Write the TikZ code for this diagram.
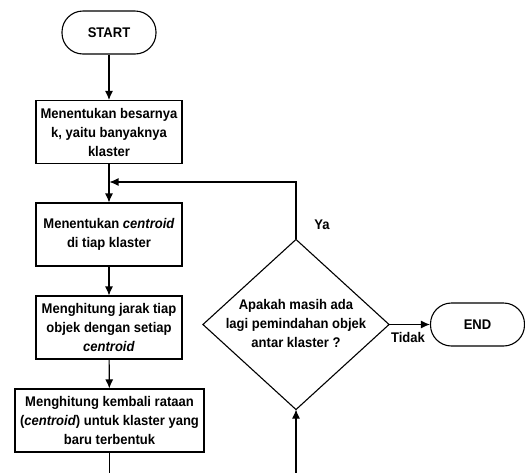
\documentclass[tikz,border=0pt]{standalone}
\usepackage{fontspec}
\setmainfont{Liberation Sans}[FakeStretch=0.93]
\usetikzlibrary{arrows.meta}
\begin{document}
\begin{tikzpicture}[x=1pt,y=-1pt,line width=1.1pt,
    every node/.style={font=\fontsize{14}{19}\selectfont\bfseries},
    panah/.style={-{Latex[length=9pt,width=8pt]}},
    proses/.style={draw,align=center,inner sep=0pt,minimum width=146pt,minimum height=63pt},
    terminal/.style={draw,rounded corners=21pt,minimum width=94pt,minimum height=43pt}]
  \useasboundingbox (0,0) rectangle (525,472);
  \clip (0,0) rectangle (525,472);
  \node[terminal] (start) at (109,32.5) {START};
  \node[proses] (k) at (109,132) {Menentukan besarnya\\k, yaitu banyaknya\\klaster};
  \node[proses] (c) at (109,234.5) {Menentukan \textit{centroid}\\di tiap klaster};
  \node[proses] (jarak) at (109,327.5) {Menghitung jarak tiap\\objek dengan setiap\\\textit{centroid}};
  \node[proses,minimum width=189pt] (rata) at (109.5,420.5) {Menghitung kembali rataan\\(\textit{centroid}) untuk klaster yang\\baru terbentuk};
  % keputusan
  \node[inner sep=0pt,minimum width=185pt,minimum height=169pt,align=center] (dec) at (296,324.5)
    {\\[-11pt]Apakah masih ada\\lagi pemindahan objek\\antar klaster ?};
  \draw (dec.north) -- (dec.east) -- (dec.south) -- (dec.west) -- cycle;
  \node[terminal] (end) at (477.5,324.5) {END};
  \node (ya) at (322,225) {Ya};
  \node (tidak) at (408,337) {Tidak};
  \coordinate (merge) at (109.5,182);
  % panah
  \draw[panah] (start) -- (k);
  \draw[panah] (k) -- (c);
  \draw[panah] (c) -- (jarak);
  \draw[panah] (jarak) -- (rata);
  \draw[panah] (dec.north) |- (merge);
  \draw[panah] (dec.east) -- (end);
  \draw[panah] (rata.south) -- ++(0,40) -| (dec.south);
\end{tikzpicture}
\end{document}
